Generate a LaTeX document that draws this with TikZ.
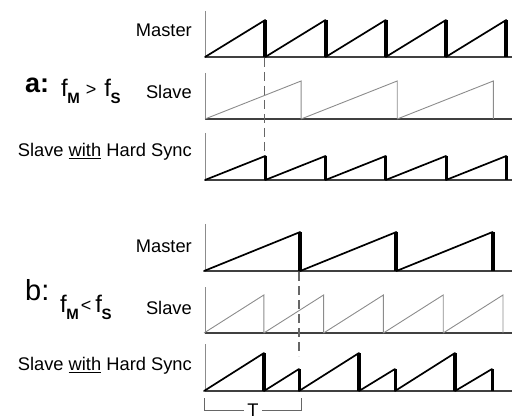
\documentclass[tikz,border=0pt]{standalone}
\usepackage{fontspec}
\setmainfont{Liberation Sans}
\usepackage{tikz}
\usetikzlibrary{positioning}

\newcommand{\lbl}{\fontsize{18.3}{20}\selectfont}
\newcommand{\sub}[1]{\raisebox{-7pt}{\fontsize{15}{16}\selectfont\bfseries #1}}
\newcommand{\rel}[1]{{\fontsize{18}{20}\selectfont\raisebox{1pt}{#1}}}

\begin{document}
\begin{tikzpicture}[x=1pt, y=-1pt,
	axis/.style={draw=black!45, line width=1pt},
	base/.style={draw=black!75, line width=1.5pt},
	ramp/.style={line width=1.7pt, line cap=round},
	drop/.style={line width=4pt},
	thin/.style={draw=black!45, line width=0.9pt},
	sync/.style={dash pattern=on 9pt off 5pt, draw=black!60, line width=1.1pt},
	label/.style={anchor=base east, font=\lbl, inner sep=0pt}]
	\useasboundingbox (0,0) rectangle (513,419);
	
	% labels, part a
	\node [label] (mastA) at (192,37) {Master};
	\node [label] (slaveA) at (192,99) {Slave};
	\node [label] (syncA) at (192,157) {Slave \underline{with} Hard Sync};
	\node [anchor=base west, inner sep=0pt] (caseA) at (25,93) {\fontsize{27}{28}\selectfont\bfseries a:};
	\node [anchor=base west, inner sep=0pt] (relA) at (61,97)
		{\fontsize{24}{26}\selectfont f\kern-0.5pt\sub{M}\hspace{6pt}\rel{>}\hspace{8pt}f\kern-0.5pt\sub{S}};
	
	% labels, part b
	\node [label] (mastB) at (192,252.5) {Master};
	\node [label] (slaveB) at (192,314) {Slave};
	\node [label] (syncB) at (192,370.5) {Slave \underline{with} Hard Sync};
	\node [anchor=base west, inner sep=0pt] (caseB) at (25,300) {\fontsize{29}{30}\selectfont b:};
	\node [anchor=base west, inner sep=0pt] (relB) at (60,312)
		{\fontsize{24}{26}\selectfont f\kern-0.5pt\sub{M}\hspace{2pt}\rel{<}\hspace{4pt}f\kern-0.5pt\sub{S}};
	
	% axes
	\foreach \top/\bot in {11/57, 73/119, 133/180, 224/271, 287/333, 344/391} {
		\draw[axis] (205,\top) -- (205,\bot);
		\draw[base] (205,\bot) -- (512,\bot);
	}
	
	% a: master
	\foreach \k in {0,...,4} {
		\pgfmathsetmacro\xa{205+60.25*\k}
		\pgfmathsetmacro\xb{\xa+60.25}
		\draw[ramp] (\xa,57) -- (\xb,20);
		\draw[drop] (\xb,20) -- (\xb,57);
	}
	% a: slave
	\foreach \k in {0,1,2} {
		\pgfmathsetmacro\xa{205+96.1*\k}
		\pgfmathsetmacro\xb{\xa+96.1}
		\draw[thin] (\xa,119) -- (\xb,81) -- (\xb,119);
	}
	% a: slave with hard sync
	\foreach \k in {0,...,4} {
		\pgfmathsetmacro\xa{205+60.25*\k}
		\pgfmathsetmacro\xb{\xa+60.25}
		\draw[ramp] (\xa,180) -- (\xb,156);
		\draw[drop, line width=3pt] (\xb,156) -- (\xb,180);
	}
	
	% b: master
	\foreach \k in {0,1,2} {
		\pgfmathsetmacro\xa{204+96.2*\k}
		\pgfmathsetmacro\xb{\xa+96.2}
		\draw[ramp] (\xa,271) -- (\xb,232);
		\draw[drop] (\xb,232) -- (\xb,271);
	}
	% b: slave
	\foreach \k in {0,...,4} {
		\pgfmathsetmacro\xa{204+59.8*\k}
		\pgfmathsetmacro\xb{\xa+59.8}
		\draw[thin] (\xa,333) -- (\xb,295) -- (\xb,333);
	}
	% b: slave with hard sync
	\foreach \xa/\xb/\yp/\w in {204/264/353/4, 264/299/369/3, 299/359/353/4,
			359/395/369/3, 395/455/353/4, 455/492/369/3} {
		\draw[ramp] (\xa,391) -- (\xb,\yp);
		\draw[drop, line width=\w pt] (\xb,\yp) -- (\xb,391);
	}
	
	% reset markers
	\coordinate (resetA) at (264.5,58);
	\coordinate (resetA') at (264.5,155);
	\coordinate (resetB) at (299,272);
	\coordinate (resetB') at (299,356);
	\draw[sync] (resetA) -- (resetA');
	\draw[sync] (resetB) -- (resetB');
	
	% period
	\coordinate (tL) at (204,398);
	\coordinate (tR) at (301,398);
	\node [font=\lbl, inner sep=3pt] (T) at (253,410) {T};
	\draw[draw=black!60, line width=1pt] (tL) |- (T.west);
	\draw[draw=black!60, line width=1pt] (T.east) -| (tR);
\end{tikzpicture}
\end{document}
